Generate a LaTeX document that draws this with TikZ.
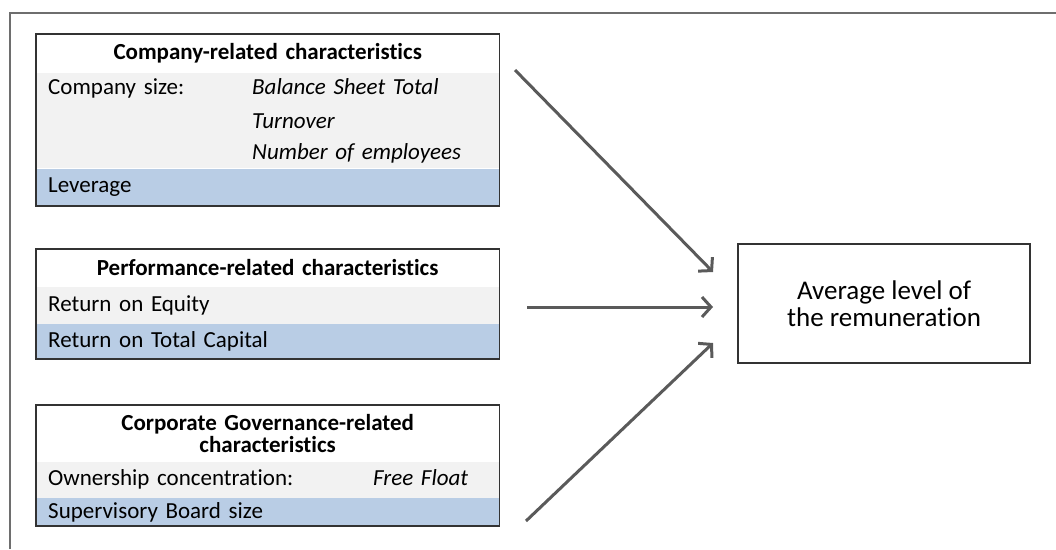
\documentclass[tikz,border=0pt]{standalone}
\usepackage{fontspec}
\setmainfont{Carlito}[Ligatures=CommonOff]
\usepackage{xcolor}
\usetikzlibrary{positioning}
\usetikzlibrary{arrows.meta}
\definecolor{rowgrey}{HTML}{F2F2F2}
\definecolor{rowblue}{HTML}{B9CDE5}
\definecolor{arrowgrey}{HTML}{5A5A5A}
\definecolor{framegrey}{HTML}{6E6E6E}
\tikzset{edge/.style = {-{Straight Barb[length=9pt,width=20pt]},line width=3pt,draw=arrowgrey}}
\newcommand{\rowpair}[3][204pt]{\makebox[#1][l]{#2}\textit{#3}}

\begin{document}
\begin{tikzpicture}[x=1pt,y=-1pt,node distance=0pt,
    hdrcell/.style={text width=439pt,inner xsep=12pt,inner ysep=0pt,align=center,font=\fontsize{23}{22}\selectfont\bfseries},
    cell/.style={text width=439pt,inner xsep=12pt,inner ysep=0pt,align=left,font=\fontsize{23}{26}\selectfont},
    greycell/.style={cell,fill=rowgrey},
    bluecell/.style={cell,fill=rowblue},
    boxline/.style={draw=black!80,line width=1.5pt},
    result/.style={draw=black!80,line width=1.2pt,minimum width=292pt,minimum height=119pt,align=center,font=\fontsize{27}{27}\selectfont}]
    \useasboundingbox (0,0) rectangle (1056,549);

    % outer frame (only top and left edge visible)
    \draw[framegrey,line width=2pt] (10,549) -- (10,12.5) -- (1056,12.5);

    % company-related
    \node[hdrcell,minimum height=38pt,anchor=north west] (compHdr) at (36,34) {Company-related characteristics};
    \node[greycell,minimum height=32pt] (compSize) [below=of compHdr] {\rowpair{Company size:}{Balance Sheet Total}};
    \node[greycell,minimum height=32pt] (compTurn) [below=of compSize] {\rowpair{}{Turnover}};
    \node[greycell,minimum height=31pt] (compEmpl) [below=of compTurn] {\rowpair{}{Number of employees}};
    \node[bluecell,minimum height=37pt] (compLev) [below=of compEmpl] {Leverage};
    \draw[boxline] (compHdr.north west) rectangle (compLev.south east);

    % performance-related
    \node[hdrcell,minimum height=37pt,anchor=north west] (perfHdr) at (36,249) {Performance-related characteristics};
    \node[greycell,minimum height=37pt] (perfRoe) [below=of perfHdr] {Return on Equity};
    \node[bluecell,minimum height=35pt] (perfRtc) [below=of perfRoe] {Return on Total Capital};
    \draw[boxline] (perfHdr.north west) rectangle (perfRtc.south east);

    % corporate governance-related
    \node[hdrcell,minimum height=56pt,anchor=north west] (govHdr) at (36,405) {Corporate Governance-related\\characteristics};
    \node[greycell,minimum height=36pt] (govOwn) [below=of govHdr] {\rowpair[325pt]{Ownership concentration:}{Free Float}};
    \node[bluecell,minimum height=28pt] (govBoard) [below=of govOwn] {Supervisory Board size};
    \draw[boxline] (govHdr.north west) rectangle (govBoard.south east);

    % result
    \node[result] (avg) at (884,303.5) {Average level of\\the remuneration};

    \coordinate (compOut) at (515,70);
    \coordinate (perfOut) at (527,307);
    \coordinate (govOut) at (526,521);
    \coordinate (avgInA) at (713,272);
    \coordinate (avgInB) at (713,307);
    \coordinate (avgInC) at (713,343);

    \path
        (compOut) edge[edge] (avgInA)
        (perfOut) edge[edge] (avgInB)
        (govOut) edge[edge] (avgInC);
\end{tikzpicture}
\end{document}
